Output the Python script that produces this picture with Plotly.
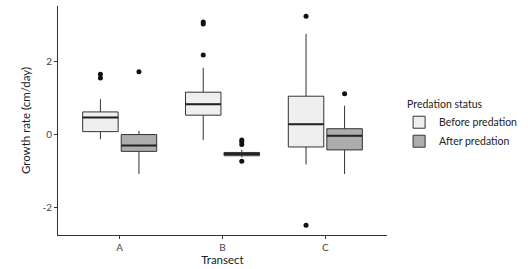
import plotly.graph_objects as go

transects = ["A", "B", "C"]
groups = ["Before predation", "After predation"]

# Box statistics per group, per transect (A, B, C)
q1 = {"Before predation": [0.08, 0.53, -0.34], "After predation": [-0.46, -0.58, -0.42]}
median = {"Before predation": [0.47, 0.83, 0.28], "After predation": [-0.30, -0.53, -0.03]}
q3 = {"Before predation": [0.62, 1.16, 1.05], "After predation": [0.00, -0.49, 0.16]}
lowerfence = {"Before predation": [-0.13, -0.15, -0.82], "After predation": [-1.08, -0.62, -1.08]}
upperfence = {"Before predation": [0.97, 1.83, 2.76], "After predation": [0.10, -0.42, 0.79]}

# Outliers: lists per transect
outliers = {
    "Before predation": [[1.55, 1.65], [2.18, 3.03, 3.08], [3.24, -2.48]],
    "After predation": [[1.72], [-0.15, -0.20, -0.27, -0.73], [1.12]],
}

fills = {"Before predation": "#efefef", "After predation": "#adadad"}
line_col = "#333333"

dodge = 0.75
n = len(groups)
bw = dodge / n * 0.92

fig = go.Figure()
for gi, g in enumerate(groups):
    off = -dodge / 2 + dodge / n * (gi + 0.5)
    xs = [i + 1 + off for i in range(len(transects))]
    fig.add_trace(go.Box(
        x=xs, q1=q1[g], median=median[g], q3=q3[g],
        lowerfence=lowerfence[g], upperfence=upperfence[g],
        width=bw, name=g, fillcolor=fills[g],
        line=dict(color=line_col, width=1), whiskerwidth=0,
        boxpoints=False, hoverinfo="skip",
    ))
    # thicker median segments
    mx, my = [], []
    for x, m in zip(xs, median[g]):
        mx += [x - bw / 2, x + bw / 2, None]
        my += [m, m, None]
    fig.add_trace(go.Scatter(x=mx, y=my, mode="lines", line=dict(color="#222222", width=2),
                             showlegend=False, hoverinfo="skip"))
    ox, oy = [], []
    for x, vals in zip(xs, outliers[g]):
        ox += [x] * len(vals)
        oy += vals
    fig.add_trace(go.Scatter(x=ox, y=oy, mode="markers",
                             marker=dict(color="#111111", size=5),
                             showlegend=False, hoverinfo="skip"))

fig.update_layout(
    width=528, height=269,
    margin=dict(l=58, r=126, t=6, b=34),
    paper_bgcolor="white", plot_bgcolor="white",
    font=dict(family="Lato, Open Sans, sans-serif", color="#222222"),
    legend=dict(
        title=dict(text="Predation status", font=dict(size=10.5)),
        font=dict(size=10.5), x=1.055, xanchor="left", y=0.48, yanchor="middle",
        tracegroupgap=0, itemwidth=30, indentation=-6,
    ),
)
fig.update_xaxes(
    range=[0.4, 3.6], tickvals=[1, 2, 3], ticktext=transects, automargin=False,
    showline=True, linecolor="#333333", linewidth=1, showgrid=False, zeroline=False,
    ticks="outside", ticklen=3, tickcolor="#333333", tickfont=dict(size=10, color="#444444"),
    title=dict(text="Transect", font=dict(size=11.5, color="#222222"), standoff=3),
)
fig.update_yaxes(
    range=[-2.75, 3.52], tickvals=[-2, 0, 2], ticktext=["-2", "0", "2"], automargin=False,
    showline=True, linecolor="#333333", linewidth=1, showgrid=False, zeroline=False,
    ticks="outside", ticklen=3, tickcolor="#333333", tickfont=dict(size=10, color="#444444"),
    title=dict(text="Growth rate (cm/day)", font=dict(size=11.5, color="#222222"), standoff=9),
)

fig.write_html(
    "out.html",
    config={"displayModeBar": False},
    post_script="document.body.style.margin='0';document.body.style.overflow='hidden';",
)
